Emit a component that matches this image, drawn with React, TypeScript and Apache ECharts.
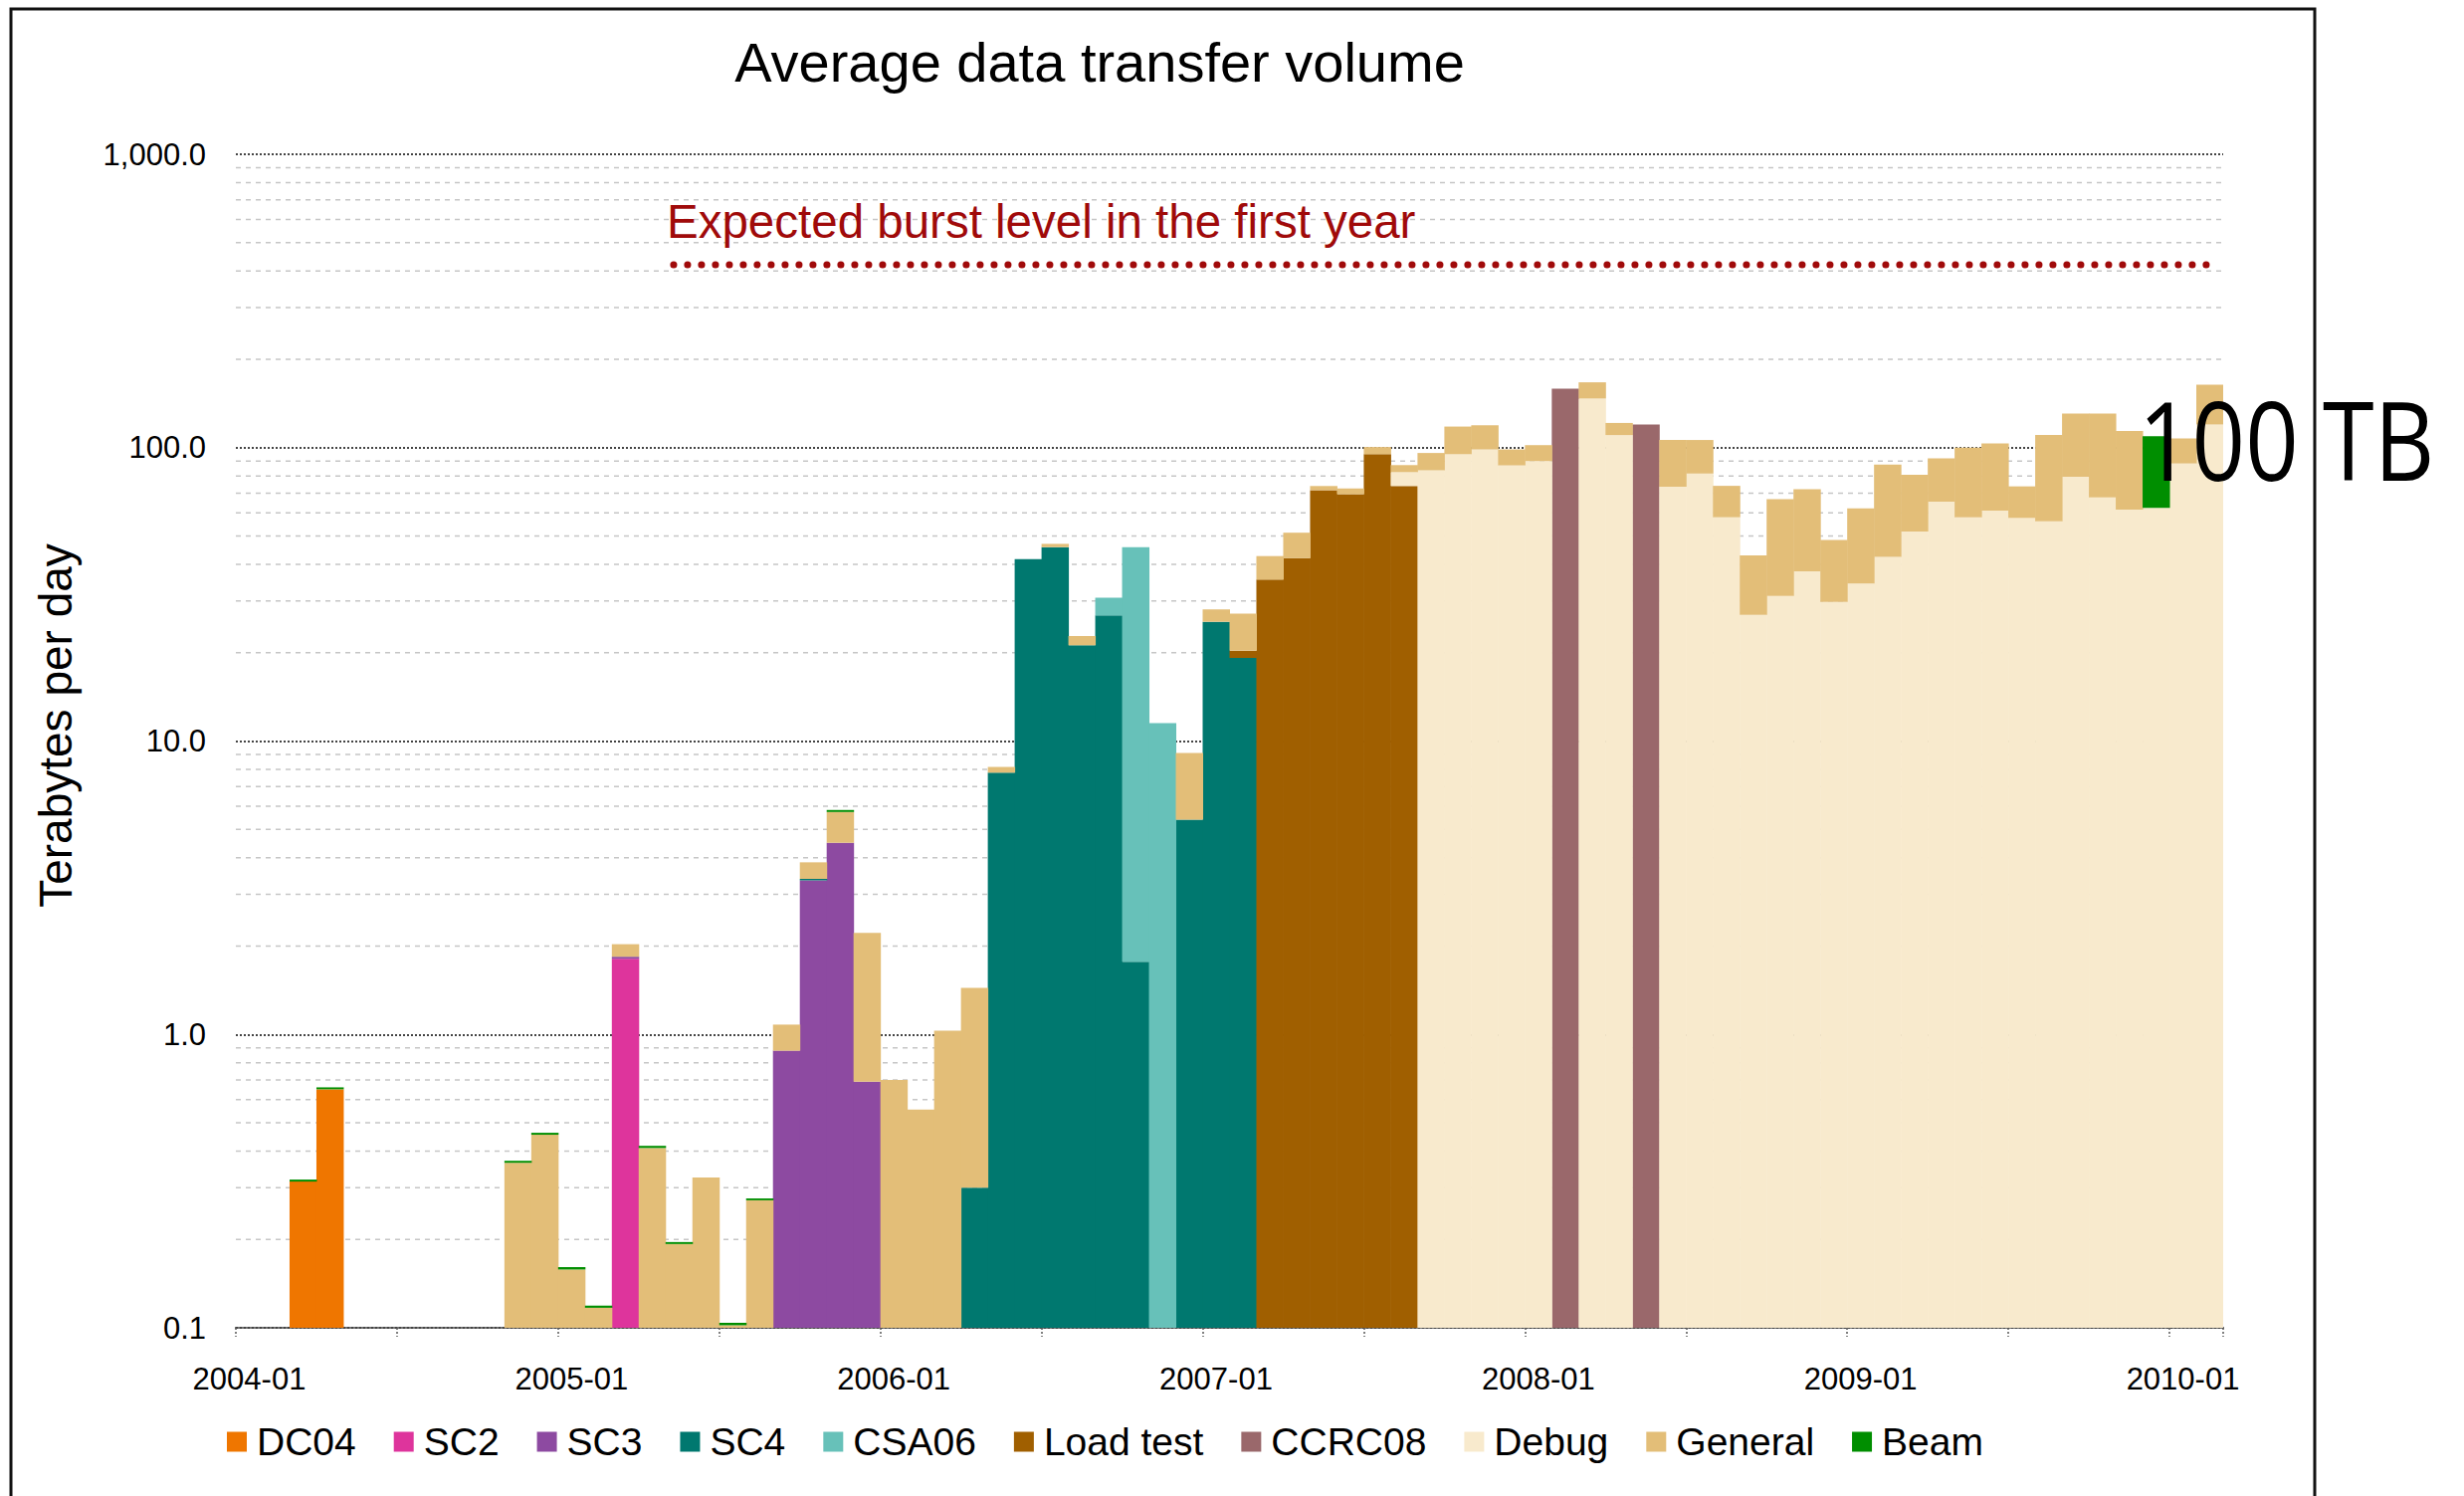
import React, { useEffect, useRef } from "react";
import * as echarts from "echarts";

// ---------- categories (months 2004-01 .. 2010-02) ----------
const firstYear = 2004;
const monthCount = 74;
const months: string[] = [];
for (let i = 0; i < monthCount; i++) {
  const y = firstYear + Math.floor(i / 12);
  const m = (i % 12) + 1;
  months.push(`${y}-${m < 10 ? "0" : ""}${m}`);
}

// ---------- series values (TB per day), [month, value] ----------
const dc04: [string, number][] = [["2004-03", 0.315], ["2004-04", 0.65]];
const sc2: [string, number][] = [["2005-03", 1.81]];
const sc3: [string, number][] = [
  ["2005-03", 0.03], ["2005-09", 0.88], ["2005-10", 3.35], ["2005-11", 4.5], ["2005-12", 0.69],
];
const sc4: [string, number][] = [
  ["2005-10", 0.04], ["2006-04", 0.3], ["2006-05", 7.8], ["2006-06", 41.7], ["2006-07", 45.8],
  ["2006-08", 21.2], ["2006-09", 26.8], ["2006-10", 1.77], ["2006-12", 5.4], ["2007-01", 25.5],
  ["2007-02", 19.2],
];
const csa06: [string, number][] = [["2006-09", 4.0], ["2006-10", 44.0], ["2006-11", 11.5]];
const loadTest: [string, number][] = [
  ["2007-02", 1.1], ["2007-03", 35.5], ["2007-04", 42.0], ["2007-05", 71.6], ["2007-06", 69.4],
  ["2007-07", 95.0], ["2007-08", 74.0],
];
const ccrc08: [string, number][] = [["2008-02", 159], ["2008-05", 120]];
const debug: [string, number][] = [
  ["2007-08", 8.5], ["2007-09", 83.7], ["2007-10", 95], ["2007-11", 98.6], ["2007-12", 87],
  ["2008-01", 90], ["2008-03", 147], ["2008-04", 110.4], ["2008-06", 73.6], ["2008-07", 81.6],
  ["2008-08", 57.9], ["2008-09", 26.9], ["2008-10", 31.2], ["2008-11", 37.9], ["2008-12", 29.8],
  ["2009-01", 34.4], ["2009-02", 42.4], ["2009-03", 51.8], ["2009-04", 65.4], ["2009-05", 57.9],
  ["2009-06", 61.0], ["2009-07", 57.6], ["2009-08", 56.1], ["2009-09", 79.6], ["2009-10", 67.7],
  ["2009-11", 61.5], ["2009-12", 62.3], ["2010-01", 88.3], ["2010-02", 120],
];
const general: [string, number][] = [
  ["2004-11", 0.365], ["2004-12", 0.455], ["2005-01", 0.158], ["2005-02", 0.117], ["2005-03", 0.19],
  ["2005-04", 0.41], ["2005-05", 0.193], ["2005-06", 0.325], ["2005-07", 0.102], ["2005-08", 0.272],
  ["2005-09", 0.2], ["2005-10", 0.47], ["2005-11", 1.23], ["2005-12", 1.53], ["2006-01", 0.7],
  ["2006-02", 0.554], ["2006-03", 1.03], ["2006-04", 1.14], ["2006-05", 0.36], ["2006-07", 1.2],
  ["2006-08", 1.6], ["2006-12", 3.7], ["2007-01", 2.6], ["2007-02", 6.9], ["2007-03", 7.2],
  ["2007-04", 9.3], ["2007-05", 2.4], ["2007-06", 3.2], ["2007-07", 5.5], ["2007-08", 4.7],
  ["2007-09", 12.2], ["2007-10", 23], ["2007-11", 20.6], ["2007-12", 11.6], ["2008-01", 12],
  ["2008-03", 20], ["2008-04", 11], ["2008-06", 32.6], ["2008-07", 24.6], ["2008-08", 16.2],
  ["2008-09", 16.0], ["2008-10", 35.6], ["2008-11", 34.3], ["2008-12", 18.7], ["2009-01", 27.7],
  ["2009-02", 45.2], ["2009-03", 29], ["2009-04", 26.6], ["2009-05", 42.1], ["2009-06", 42.4],
  ["2009-07", 16.2], ["2009-08", 54.3], ["2009-09", 51.2], ["2009-10", 63.1], ["2009-11", 52.4],
  ["2010-01", 19.2], ["2010-02", 44],
];
const beam: [string, number][] = [
  ["2004-03", 0.005], ["2004-04", 0.01], ["2004-11", 0.006], ["2004-12", 0.007], ["2005-01", 0.003],
  ["2005-02", 0.002], ["2005-04", 0.007], ["2005-05", 0.003], ["2005-07", 0.002], ["2005-08", 0.004],
  ["2005-11", 0.09], ["2009-12", 47.2],
];

// Expected burst level annotation
const burstLevel = 420;
const burstStart = "2005-05";
const burstEnd = "2010-02";

// y-axis minor gridlines (2..9 within each decade)
const decades = [0.1, 1, 10, 100];
const minorSteps = [2, 3, 4, 5, 6, 7, 8, 9];

const seriesDefs = [
  { name: "DC04", color: "#EF7600", data: dc04 },
  { name: "SC2", color: "#DE349C", data: sc2 },
  { name: "SC3", color: "#8D4AA1", data: sc3 },
  { name: "SC4", color: "#00786F", data: sc4 },
  { name: "CSA06", color: "#67C1B9", data: csa06 },
  { name: "Load test", color: "#A05F00", data: loadTest },
  { name: "CCRC08", color: "#9A686B", data: ccrc08 },
  { name: "Debug", color: "#F8EACD", data: debug },
  { name: "General", color: "#E3BE78", data: general },
  { name: "Beam", color: "#008E00", data: beam },
];

const FONT = '"Liberation Sans", Arial, Helvetica, sans-serif';

function buildOption() {
  const cum = new Array(monthCount).fill(0);
  const barSeries = seriesDefs.map((def) => {
    const lookup = new Map(def.data);
    const items: number[][] = [];
    for (let i = 0; i < monthCount; i++) {
      const v = lookup.get(months[i]) || 0;
      if (v > 0) {
        const lo = cum[i];
        const hi = lo + v;
        items.push([i, Math.max(lo, 0.1), hi]);
        cum[i] = hi;
      }
    }
    const color = def.color;
    return {
      type: "custom",
      name: def.name,
      itemStyle: { color },
      encode: { x: 0, y: [1, 2] },
      z: 3,
      clip: true,
      data: items,
      renderItem: (params: any, api: any) => {
        const i = api.value(0);
        const lo = api.value(1);
        const hi = api.value(2);
        const pLo = api.coord([i, lo]);
        const pHi = api.coord([i, hi]);
        const w = api.size([1, 0], [i, 1])[0];
        return {
          type: "rect",
          shape: { x: pLo[0] - w / 2, y: pHi[1], width: w + 0.5, height: pLo[1] - pHi[1] },
          style: { fill: color },
        };
      },
    };
  });

  const minorValues: number[][] = [];
  decades.forEach((d) => minorSteps.forEach((k) => minorValues.push([0, d * k])));

  const minorGrid = {
    type: "custom",
    name: "_minor",
    silent: true,
    z: 1,
    encode: { x: 0, y: 1 },
    data: minorValues,
    renderItem: (params: any, api: any) => {
      const cs = params.coordSys;
      const y = api.coord([0, api.value(1)])[1];
      return {
        type: "line",
        shape: { x1: cs.x, y1: y, x2: cs.x + cs.width, y2: y },
        style: { stroke: "#c6c6c6", lineWidth: 1.5, lineDash: [5, 5] },
      };
    },
  };

  const burstLine = {
    type: "custom",
    name: "_burst",
    silent: true,
    z: 4,
    encode: { x: [0, 2], y: 1 },
    data: [[months.indexOf(burstStart), burstLevel, months.indexOf(burstEnd)]],
    renderItem: (params: any, api: any) => {
      const p1 = api.coord([api.value(0), api.value(1)]);
      const p2 = api.coord([api.value(2), api.value(1)]);
      const w = api.size([1, 0], [api.value(2), 1])[0];
      return {
        type: "line",
        shape: { x1: p1[0] - w * 0.2, y1: p1[1], x2: p2[0] + w * 0.25, y2: p2[1] },
        style: { stroke: "#A00A0A", lineWidth: 7, lineDash: [0.1, 13.9], lineCap: "round" },
      };
    },
  };

  return {
    animation: false,
    backgroundColor: "#ffffff",
    grid: { left: 237, right: 242, top: 155, bottom: 169, containLabel: false },
    legend: {
      data: seriesDefs.map((d) => d.name),
      left: 223,
      top: 1424,
      icon: "rect",
      itemWidth: 20,
      itemHeight: 20,
      itemGap: 38,
      selectedMode: false,
      textStyle: { fontSize: 39, color: "#000", fontFamily: FONT, padding: [0, 0, 0, 5] },
    },
    xAxis: {
      type: "category",
      data: months,
      boundaryGap: true,
      axisLine: { show: true, lineStyle: { color: "#444", width: 2, type: [2, 2] } },
      axisTick: { show: true, interval: 5, length: 9, lineStyle: { color: "#555", width: 1.5, type: [2, 2] } },
      axisLabel: { interval: 11, fontSize: 31, color: "#000", margin: 36, fontFamily: FONT },
      splitLine: { show: false },
    },
    yAxis: {
      type: "log",
      logBase: 10,
      min: 0.1,
      max: 1000,
      axisLine: { show: false },
      axisTick: { show: false },
      axisLabel: {
        fontSize: 31,
        color: "#000",
        margin: 30,
        fontFamily: FONT,
        formatter: (v: number) =>
          Number(v).toLocaleString("en-US", { minimumFractionDigits: 1, maximumFractionDigits: 1 }),
      },
      splitLine: { show: true, lineStyle: { color: "#444", width: 2, type: [2, 2] } },
    },
    series: [minorGrid, ...barSeries, burstLine],
    graphic: [
      {
        type: "rect",
        silent: true,
        z: 0,
        shape: { x: 11, y: 9, width: 2315, height: 1700 },
        style: { fill: "none", stroke: "#111", lineWidth: 3 },
      },
      {
        type: "text",
        x: 1105,
        y: 62,
        z: 10,
        style: {
          text: "Average data transfer volume",
          fill: "#000",
          fontSize: 56,
          fontFamily: FONT,
          align: "center",
          verticalAlign: "middle",
        },
      },
      {
        type: "text",
        x: 56,
        y: 729,
        rotation: Math.PI / 2,
        z: 10,
        style: {
          text: "Terabytes per day",
          fill: "#000",
          fontSize: 46,
          fontFamily: FONT,
          align: "center",
          verticalAlign: "middle",
        },
      },
      {
        type: "text",
        x: 670,
        y: 222,
        z: 10,
        style: {
          text: "Expected burst level in the first year",
          fill: "#A00A0A",
          fontSize: 47.5,
          fontFamily: FONT,
          align: "left",
          verticalAlign: "middle",
        },
      },
      {
        type: "text",
        x: 2149,
        y: 441,
        scaleX: 0.86,
        z: 20,
        style: {
          text: "100 TB",
          fill: "#000",
          fontSize: 109,
          fontFamily: '"Open Sans", "Noto Sans", sans-serif',
          align: "left",
          verticalAlign: "middle",
        },
      },
    ],
  };
}

export default function App() {
  const ref = useRef<HTMLDivElement>(null);
  useEffect(() => {
    if (!ref.current) return;
    const chart = echarts.init(ref.current, undefined, { renderer: "svg" });
    chart.setOption(buildOption() as any);
    return () => chart.dispose();
  }, []);
  return (
    <div
      ref={ref}
      style={{ position: "fixed", left: 0, top: 0, width: 2476, height: 1503, background: "#fff" }}
    />
  );
}
